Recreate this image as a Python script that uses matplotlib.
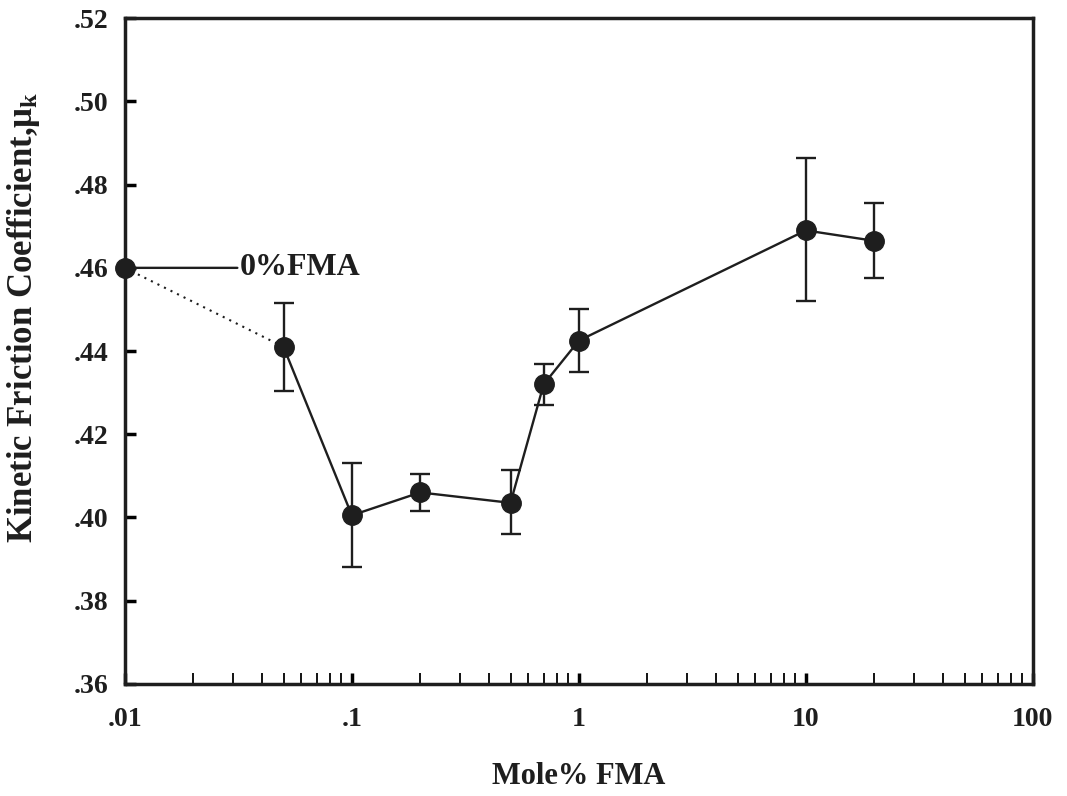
import numpy as np
import matplotlib.pyplot as plt
from matplotlib.ticker import LogLocator, NullFormatter

plt.rcParams['font.family'] = ['Liberation Serif', 'DejaVu Serif']
plt.rcParams['font.weight'] = 'bold'
plt.rcParams['mathtext.fontset'] = 'custom'
plt.rcParams['mathtext.rm'] = 'Liberation Serif:bold'
plt.rcParams['mathtext.it'] = 'Liberation Serif:bold'

# data
mole_pct = [0.05, 0.1, 0.2, 0.5, 0.7, 1, 10, 20]
mu_k = [0.441, 0.4005, 0.406, 0.4035, 0.432, 0.4425, 0.469, 0.4665]
err_lo = [0.4305, 0.388, 0.4015, 0.396, 0.427, 0.435, 0.452, 0.4575]
err_hi = [0.4515, 0.413, 0.4105, 0.4115, 0.437, 0.450, 0.4865, 0.4755]
ref_x = 0.01
ref_mu = 0.46

ytick_vals = [0.36, 0.38, 0.40, 0.42, 0.44, 0.46, 0.48, 0.50, 0.52]
ytick_labels = ['.36', '.38', '.40', '.42', '.44', '.46', '.48', '.50', '.52']
xtick_vals = [0.01, 0.1, 1, 10, 100]
xtick_labels = ['.01', '.1', '1', '10', '100']

ink = '#1e1e1e'

fig = plt.figure(figsize=(10.67, 7.96), dpi=100)
ax = fig.add_axes([0.117, 0.141, 0.851, 0.836])

yerr = [np.array(mu_k) - np.array(err_lo), np.array(err_hi) - np.array(mu_k)]
ax.errorbar(mole_pct, mu_k, yerr=yerr, fmt='o-', color=ink, ms=14,
            lw=1.7, elinewidth=1.7, capsize=7.5, capthick=1.7, zorder=3)

# dotted link from the 0% reference point
ax.plot([ref_x, mole_pct[0]], [ref_mu, mu_k[0]], ls=(0, (1, 2.5)), color=ink, lw=1.5)
ax.plot([ref_x], [ref_mu], 'o', color=ink, ms=14, clip_on=False, zorder=4)
ax.annotate('0%FMA', xy=(ref_x, ref_mu), xytext=(0.0322, ref_mu),
            fontsize=23, fontweight='bold', va='center', ha='left', color=ink,
            arrowprops=dict(arrowstyle='-', color=ink, lw=1.7,
                            shrinkA=0, shrinkB=3))

ax.set_xscale('log')
ax.set_xlim(0.01, 100)
ax.set_ylim(0.36, 0.52)
ax.set_xticks(xtick_vals)
ax.set_xticklabels(xtick_labels)
ax.xaxis.set_minor_locator(LogLocator(base=10, subs=np.arange(2, 10)))
ax.xaxis.set_minor_formatter(NullFormatter())
ax.set_yticks(ytick_vals)
ax.set_yticklabels(ytick_labels)

ax.tick_params(axis='both', which='major', direction='in', labelsize=20,
               width=2.5, length=8, top=False, right=False, labelcolor=ink)
ax.tick_params(axis='x', which='major', pad=17)
ax.tick_params(axis='y', which='major', pad=12)
ax.tick_params(axis='x', which='minor', direction='in', width=1.3, length=8)
for s in ax.spines.values():
    s.set_linewidth(2.5)
    s.set_color(ink)

ax.set_xlabel('Mole% FMA', fontsize=22, fontweight='bold', color=ink)
ax.xaxis.set_label_coords(0.5, -0.118)
ax.set_ylabel(r'Kinetic Friction Coefficient,$\mu_\mathrm{k}$', fontsize=25,
              fontweight='bold', color=ink)
ax.yaxis.set_label_coords(-0.091, 0.55)

fig.savefig('out.png', dpi=100)
